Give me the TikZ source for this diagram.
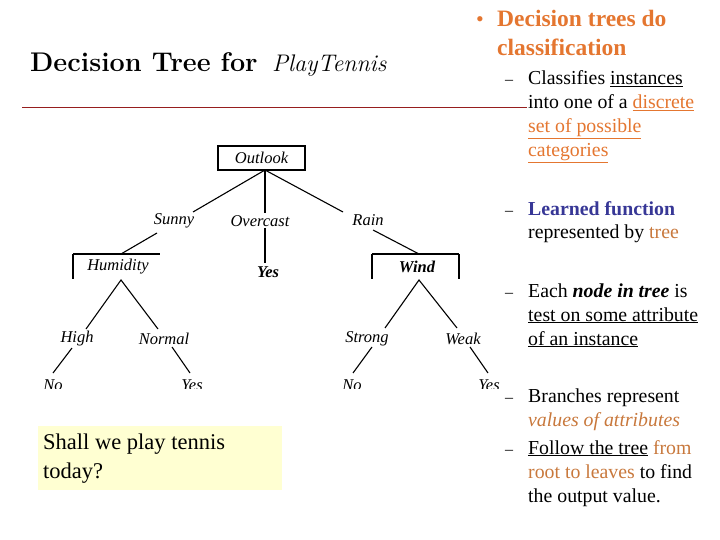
\documentclass[tikz,border=0pt]{standalone}
\usepackage{fontspec}
\setmainfont{Liberation Serif}
\newfontfamily\lmr{Latin Modern Roman}
\definecolor{org}{RGB}{228,118,48}
\definecolor{brn}{RGB}{200,120,60}
\definecolor{blu}{RGB}{55,55,150}
\definecolor{dred}{RGB}{150,30,30}
\definecolor{pale}{RGB}{255,255,210}
\begin{document}
\begin{tikzpicture}[x=1pt,y=-1pt,
  lab/.style={font=\itshape\fontsize{16.5}{16.5}\selectfont,inner sep=0pt},
  txt/.style={anchor=base west,inner sep=0pt,font=\fontsize{19.8}{19.8}\selectfont},
  hd/.style={anchor=base west,inner sep=0pt,font=\bfseries\fontsize{23.5}{23.5}\selectfont,text=org},
  br/.style={line width=1.1pt}]
\useasboundingbox (0,0) rectangle (720,540);
% title
\node[anchor=base west,inner sep=0pt,font=\lmr\bfseries\fontsize{27}{27}\selectfont] (title) at (30,72) {Decision Tree for};
\node[anchor=base west,inner sep=0pt,font=\lmr\itshape\fontsize{24}{24}\selectfont] (pt) at (272,72) {PlayTennis};
\coordinate (l1) at (22,107); \coordinate (l2) at (527,107);
\draw[dred,line width=0.7pt] (l1) -- (l2);
% tree
\begin{scope}
\clip (0,130) rectangle (500,388);
\node[draw,br,minimum width=87,minimum height=24,lab] (outlook) at (261.5,158) {Outlook};
\node[lab] (sunny) at (174,221) {Sunny};
\node[lab] (overcast) at (260,221) {Overcast};
\node[lab] (rain) at (368,220) {Rain};
\node[lab,font=\bfseries\itshape\fontsize{16.5}{16.5}\selectfont] (yes0) at (268,272) {Yes};
\node[lab] (humidity) at (118,267) {Humidity};
\node[lab,font=\bfseries\itshape\fontsize{16.5}{16.5}\selectfont] (wind) at (417,267) {Wind};
\node[lab] (high) at (77,339) {High};
\node[lab] (normal) at (164,339) {Normal};
\node[lab] (strong) at (367,339) {Strong};
\node[lab] (weak) at (463,339) {Weak};
\node[lab] (no1) at (53,385) {No};
\node[lab] (yes1) at (192,385) {Yes};
\node[lab] (no2) at (352,385) {No};
\node[lab] (yes2) at (489,385) {Yes};
\coordinate (o) at (265,170);
\coordinate (hu) at (121,254); \coordinate (hl) at (73,254); \coordinate (hr) at (160,254);
\coordinate (wu) at (419,254); \coordinate (wl) at (372,254); \coordinate (wr) at (459,254);
\draw[br] (hl) -- (hr) (hl) -- (73,279);
\draw[br] (wl) -- (wr) (wl) -- (372,279) (wr) -- (459,279);
\draw[br] (o) -- (193,212);
\draw[br] (157,233) -- (hu);
\draw[br] (o) -- (265,213);
\draw[br] (265,228) -- (265,263);
\draw[br] (o) -- (343,212);
\draw[br] (373,230) -- (wu);
\draw[br] (86,329) -- (121,280) -- (158,329);
\draw[br] (72,348) -- (53,373);
\draw[br] (172,347) -- (190,373);
\draw[br] (385,328) -- (419,280) -- (457,328);
\draw[br] (372,347) -- (353,373);
\draw[br] (470,347) -- (488,373);
\end{scope}
% question box
\node[fill=pale,minimum width=244,minimum height=64,anchor=north west,inner sep=0pt] (q) at (38,426) {};
\node[anchor=north west,inner sep=0pt,align=left,font=\fontsize{22.5}{29}\selectfont] (qt) at (43,434) {Shall we play tennis\\today?};
% right text
\node[anchor=base west,inner sep=0pt,text=org,font=\fontsize{22}{22}\selectfont] (bul) at (476,27) {•};
\node[hd] (h1) at (497,27) {Decision trees do};
\node[hd] (h2) at (497,56) {classification};
\node[txt,font=\fontsize{16}{16}\selectfont] (d1) at (505,85) {–};
\node[txt] (t1) at (528,85) {Classifies \underline{instances}};
\node[txt] (t2) at (528,109) {into one of a \textcolor{org}{\underline{discrete}}};
\node[txt,text=org] (t3) at (528,133) {\underline{set of possible}};
\node[txt,text=org] (t4) at (528,157) {\underline{categories}};
\node[txt,font=\fontsize{16}{16}\selectfont] (d2) at (505,215) {–};
\node[txt] (t5) at (528,215) {\textcolor{blu}{\bfseries Learned function}};
\node[txt] (t6) at (528,239) {represented by \textcolor{brn}{tree}};
\node[txt,font=\fontsize{16}{16}\selectfont] (d3) at (505,297) {–};
\node[txt] (t7) at (528,297) {Each \textbf{\textit{node in tree}} is};
\node[txt] (t8) at (528,321) {\underline{test on some attribute}};
\node[txt] (t9) at (528,345) {\underline{of an instance}};
\node[txt,font=\fontsize{16}{16}\selectfont] (d4) at (505,402) {–};
\node[txt] (t10) at (528,402) {Branches represent};
\node[txt,text=brn] (t11) at (528,426) {\itshape values of attributes};
\node[txt,font=\fontsize{16}{16}\selectfont] (d5) at (505,454) {–};
\node[txt] (t12) at (528,454) {\underline{Follow the tree} \textcolor{brn}{from}};
\node[txt] (t13) at (528,478) {\textcolor{brn}{root to leaves} to find};
\node[txt] (t14) at (528,502) {the output value.};
\end{tikzpicture}
\end{document}
